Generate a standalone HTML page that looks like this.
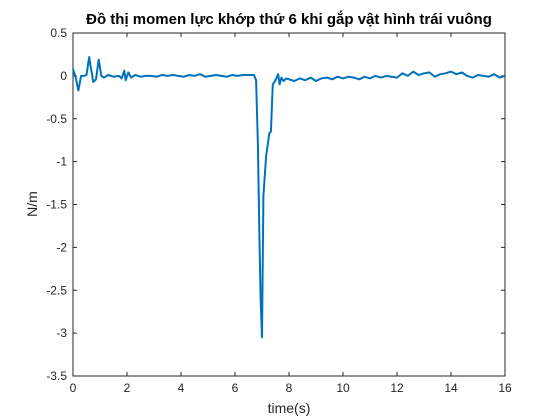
<!DOCTYPE html>
<html><head><meta charset="utf-8"><style>
body{margin:0;background:#fff;}
svg{display:block;font-family:"Liberation Sans",sans-serif;}
</style></head><body>
<svg id="chart" width="560" height="420" viewBox="0 0 560 420"></svg>
<script>
const xTicks=[0,2,4,6,8,10,12,14,16];
const yTicks=[0.5,0,-0.5,-1,-1.5,-2,-2.5,-3,-3.5];
const yTickLabels=["0.5","0","-0.5","-1","-1.5","-2","-2.5","-3","-3.5"];
const times=[0,0.1,0.2,0.3,0.4,0.5,0.6,0.65,0.75,0.85,0.95,1.05,1.15,1.3,1.5,1.7,1.8,1.9,1.95,2.05,2.15,2.3,2.5,2.7,2.9,3.1,3.3,3.5,3.7,3.9,4.1,4.3,4.5,4.7,4.9,5.1,5.3,5.5,5.7,5.9,6.1,6.3,6.5,6.7,6.78,6.85,6.9,6.95,7.0,7.05,7.15,7.27,7.33,7.4,7.5,7.6,7.65,7.72,7.8,7.9,8.0,8.2,8.4,8.6,8.8,9.0,9.2,9.4,9.6,9.8,10.0,10.2,10.4,10.6,10.8,11.0,11.2,11.4,11.6,11.8,12.0,12.2,12.4,12.6,12.8,13.0,13.2,13.4,13.6,13.8,14.0,14.2,14.4,14.6,14.8,15.0,15.2,15.4,15.6,15.8,16.0];
const values=[0.08,-0.02,-0.17,0.0,0.0,0.01,0.22,0.12,-0.07,-0.04,0.19,0.0,-0.02,0.01,-0.01,0.0,-0.03,0.06,-0.05,0.04,-0.02,0.01,-0.01,0.0,0.0,-0.01,0.01,0.0,0.01,0.0,-0.01,0.01,0.0,0.02,-0.01,0.0,0.01,0.0,-0.01,0.01,0.0,0.01,0.01,0.01,-0.05,-0.8,-1.8,-2.6,-3.05,-1.4,-0.94,-0.67,-0.65,-0.1,-0.05,0.02,-0.1,-0.02,-0.06,-0.03,-0.04,-0.06,-0.03,-0.05,-0.02,-0.06,-0.03,-0.02,-0.04,-0.01,-0.03,-0.01,-0.02,-0.04,-0.01,-0.03,0.0,-0.02,0.0,-0.01,-0.02,0.03,0.0,0.05,0.01,0.03,0.04,-0.01,0.02,0.03,0.05,0.02,0.04,0.0,-0.02,0.01,0.0,-0.01,0.02,-0.02,0.0];
const L=73,R=505,T=33,B=376;
const X=t=>L+(t-0)/16*(R-L);
const Y=v=>T+(0.5-v)/4*(B-T);
const svg=document.getElementById('chart');
const NS='http://www.w3.org/2000/svg';
function mk(tag,attrs){const e=document.createElementNS(NS,tag);for(const k in attrs)e.setAttribute(k,attrs[k]);svg.appendChild(e);return e;}
let box=mk('rect',{x:L,y:T,width:R-L,height:B-T,fill:'#fff',stroke:'#262626','stroke-width':1});


xTicks.forEach(t=>{
  const x=X(t);
  let l=mk('line',{x1:x,y1:B,x2:x,y2:B-4,stroke:'#262626'});
  
  
  let l2=mk('line',{x1:x,y1:T,x2:x,y2:T+4,stroke:'#262626'});
  
  
  let tx=mk('text',{x:x,y:B+16,'text-anchor':'middle','font-size':12,fill:'#262626'});
  tx.textContent=String(t);
  
  
});
yTicks.forEach((v,i)=>{
  const y=Y(v);
  let l=mk('line',{x1:L,y1:y,x2:L+4,y2:y,stroke:'#262626'});
  
  
  let l2=mk('line',{x1:R,y1:y,x2:R-4,y2:y,stroke:'#262626'});
  
  
  let tx=mk('text',{x:L-6,y:y+4,'text-anchor':'end','font-size':12,fill:'#262626'});
  tx.textContent=yTickLabels[i];
  
  
});
let d=times.map((t,i)=>(i?'L':'M')+X(t).toFixed(1)+','+Y(values[i]).toFixed(1)).join('');
let p=mk('path',{d:d,fill:'none',stroke:'#0072BD','stroke-width':2,'stroke-linejoin':'round'});


let ti=mk('text',{x:289,y:24,'text-anchor':'middle','font-size':15,'font-weight':'bold',fill:'#000'});
ti.textContent='Đồ thị momen lực khớp thứ 6 khi gắp vật hình trái vuông';


let xl=mk('text',{x:289,y:413,'text-anchor':'middle','font-size':14,fill:'#262626'});
xl.textContent='time(s)';


let yl=mk('text',{x:0,y:0,'text-anchor':'middle','font-size':14,fill:'#262626',transform:'translate(37,204) rotate(-90)'});
yl.textContent='N/m';


</script>
</body></html>
